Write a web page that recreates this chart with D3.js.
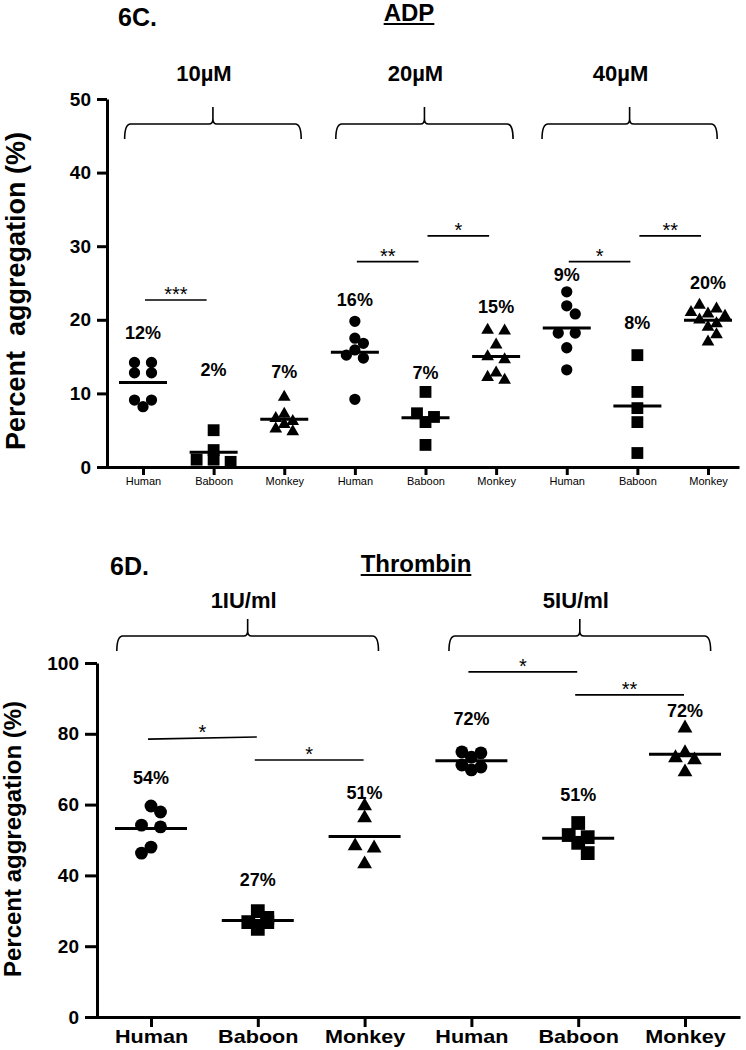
<!DOCTYPE html>
<meta charset="utf-8" />
<head>
  <script src="https://d3js.org/d3.v7.min.js"></script>
  <style>
    body { margin: 0; background: #fff; }
    svg text { font-family: "Liberation Sans", Arial, sans-serif; fill: #000; }
  </style>
</head>
<body>
  <div id="chart"></div>
</body>
<script>
  // ---- data ----
  var species = ["Human", "Baboon", "Monkey"];

  // 6C. ADP
  var adpDoses = ["10µM", "20µM", "40µM"];
  var adpYTicks = [0, 10, 20, 30, 40, 50];
  var adp10Human = [14.2, 14.2, 12.8, 12.8, 9.1, 9.1, 8.2];
  var adp10Baboon = [5.0, 2.3, 1.0, 1.0, 0.7];
  var adp10Monkey = [9.5, 7.2, 6.6, 6.2, 5.8, 5.2, 4.8];
  var adp20Human = [19.8, 17.5, 16.8, 15.9, 15.2, 14.8, 9.2];
  var adp20Baboon = [10.2, 7.3, 6.8, 6.1, 3.0];
  var adp20Monkey = [18.6, 18.5, 16.6, 15.0, 14.6, 12.8, 12.2, 11.8];
  var adp40Human = [23.8, 21.9, 20.8, 18.2, 18.2, 16.2, 13.2];
  var adp40Baboon = [15.2, 10.2, 8.0, 6.1, 1.9];
  var adp40Monkey = [22.0, 21.5, 21.0, 20.8, 20.5, 20.0, 19.5, 19.0, 18.0, 17.0];
  var adpPercent = ["12%", "2%", "7%", "16%", "7%", "15%", "9%", "8%", "20%"];
  var adpPercentAt = [18.2, 13.2, 12.9, 22.7, 12.8, 21.8, 26.1, 19.6, 25.0];
  var adpSigFrom = [0, 3, 4, 6, 7];
  var adpSigTo = [1, 4, 5, 7, 8];
  var adpSigAt = [22.7, 27.9, 31.4, 27.9, 31.4];
  var adpSigStars = ["***", "**", "*", "*", "**"];

  // 6D. Thrombin
  var thrDoses = ["1IU/ml", "5IU/ml"];
  var thrYTicks = [0, 20, 40, 60, 80, 100];
  var thr1Human = [59.6, 57.9, 54.2, 53.7, 48.0, 46.3];
  var thr1Baboon = [29.9, 28.0, 26.8, 26.8, 24.9];
  var thr1Monkey = [59.6, 56.2, 48.3, 47.7, 43.2];
  var thr5Human = [74.9, 74.6, 73.4, 71.2, 70.6, 69.8];
  var thr5Baboon = [54.8, 51.4, 50.8, 49.2, 46.3];
  var thr5Monkey = [81.6, 74.6, 73.2, 72.6, 69.2];
  var thrPercent = ["54%", "27%", "51%", "72%", "51%", "72%"];
  var thrPercentAt = [67.5, 38.7, 63.3, 84.2, 62.7, 86.4];
  var thrSigFrom = [0, 1, 3, 4];
  var thrSigTo = [1, 2, 4, 5];
  var thrSigAt = [78.5, 72.6, 97.5, 91.0];
  var thrSigAtEnd = [79.1, 72.6, 97.5, 91.0];
  var thrSigStars = ["*", "*", "*", "**"];

  var svg = d3.select("#chart").append("svg")
    .attr("width", 746).attr("height", 1050);

  var shapes = [d3.symbolCircle, d3.symbolSquare, d3.symbolTriangle];

  // spread points of one column like a scatter dot plot
  function swarm(vals, y, d, h) {
    var pts = vals.map(function (v) { return { v: v, py: y(v), dx: 0 }; })
      .sort(function (a, b) { return a.py - b.py; });
    var rows = [];
    pts.forEach(function (p) {
      var last = rows[rows.length - 1];
      if (last && p.py - last[0].py <= 4) last.push(p);
      else rows.push([p]);
    });
    var side = 1;
    rows.forEach(function (row, k) {
      var n = row.length;
      row.forEach(function (p, i) { p.dx = (i - (n - 1) / 2) * d; });
      if (n === 1 && k > 0) {
        var prev = rows[k - 1];
        var prevLast = prev[prev.length - 1];
        var hasCenter = prev.some(function (q) { return q.dx === 0; });
        if (row[0].py - prevLast.py < h && hasCenter) {
          row[0].dx = side * d / 2;
          side = -side;
        }
      }
    });
    return pts;
  }

  function brace(g, x0, x1, xc, yTop, drop, rise) {
    var r = 6;
    var p = "M" + x0 + "," + (yTop + drop) +
      " Q" + x0 + "," + yTop + " " + (x0 + r) + "," + yTop +
      " L" + (xc - 4) + "," + yTop +
      " Q" + xc + "," + yTop + " " + xc + "," + (yTop - 5) +
      " L" + xc + "," + (yTop - rise) +
      " M" + xc + "," + (yTop - 5) +
      " Q" + xc + "," + yTop + " " + (xc + 4) + "," + yTop +
      " L" + (x1 - r) + "," + yTop +
      " Q" + x1 + "," + yTop + " " + x1 + "," + (yTop + drop);
    g.append("path").attr("d", p).attr("fill", "none")
      .attr("stroke", "#000").attr("stroke-width", 1.6);
  }

  function drawPanel(o) {
    var g = svg.append("g");
    var x = o.x, y = o.y;

    // y axis
    var ya = g.append("g").attr("transform", "translate(" + o.axisX + ",0)")
      .call(d3.axisLeft(y).tickValues(o.yTicks).tickSize(o.tickLen)
        .tickSizeOuter(0).tickPadding(o.tickPad));
    ya.selectAll("path, line").attr("stroke", "#000").attr("stroke-width", 3);
    ya.selectAll("text").attr("font-size", o.yTickFont).attr("font-weight", "bold")
      .attr("fill", "#0d0d1a");

    // x axis
    var xs = d3.scaleLinear().domain([x.invert(o.axisX - 10), x.invert(o.axisEnd)])
      .range([o.axisX - 10, o.axisEnd]);
    var xa = g.append("g").attr("transform", "translate(0," + y(0) + ")")
      .call(d3.axisBottom(xs).tickValues(d3.range(o.groups.length))
        .tickFormat(function (i) { return species[i % 3]; })
        .tickSize(o.xTickLen).tickSizeOuter(0).tickPadding(o.xTickPad));
    xa.selectAll("path, line").attr("stroke", "#000").attr("stroke-width", 3);
    xa.selectAll("text").attr("font-size", o.xTickFont)
      .attr("font-weight", o.xTickWeight)
      .attr("transform", "scale(" + o.xTickStretch + ",1)");

    // points and mean lines
    o.groups.forEach(function (vals, i) {
      var pts = swarm(vals, y, o.spread, o.symH);
      g.selectAll(null).data(pts).enter().append("path")
        .attr("d", d3.symbol().type(shapes[i % 3]).size(o.symSize[i % 3]))
        .attr("transform", function (p) {
          return "translate(" + (x(i) + p.dx) + "," + p.py + ")";
        })
        .attr("fill", "#000");
      var m = d3.mean(vals);
      g.append("line")
        .attr("x1", x(i) - o.meanHalf).attr("x2", x(i) + o.meanHalf)
        .attr("y1", y(m)).attr("y2", y(m))
        .attr("stroke", "#000").attr("stroke-width", 3);
      g.append("text").attr("x", x(i)).attr("y", y(o.percentAt[i]))
        .attr("dy", "0.35em").attr("text-anchor", "middle")
        .attr("font-size", 18).attr("font-weight", "bold")
        .text(o.percent[i]);
    });

    // significance bars
    o.sigFrom.forEach(function (a, k) {
      var x1 = x(a) + o.sigPad[0], x2 = x(o.sigTo[k]) + o.sigPad[1];
      var y1 = y(o.sigAt[k]), y2 = y(o.sigAtEnd ? o.sigAtEnd[k] : o.sigAt[k]);
      g.append("line").attr("x1", x1).attr("x2", x2).attr("y1", y1).attr("y2", y2)
        .attr("stroke", "#000").attr("stroke-width", 1.6);
      g.append("text").attr("x", (x1 + x2) / 2).attr("y", (y1 + y2) / 2 + 1)
        .attr("text-anchor", "middle").attr("font-size", 20)
        .text(o.sigStars[k]);
    });

    // axis title
    g.append("text")
      .attr("transform", "translate(" + o.yTitleX + "," + o.yTitleY + ") rotate(-90)")
      .attr("text-anchor", "middle").attr("dy", "0.35em")
      .attr("font-size", o.yTitleFont).attr("font-weight", "bold")
      .style("white-space", "pre")
      .text(o.yTitle);

    // dose braces and labels
    o.doses.forEach(function (d, k) {
      var x0 = x(o.braceFrom[k]), x1 = x(o.braceTo[k]);
      var xc = (x0 + x1) / 2;
      brace(g, x0, x1, xc, o.braceY, 15, 17);
      g.append("text").attr("x", xc - o.doseShift).attr("y", o.doseY)
        .attr("text-anchor", "middle").attr("font-size", 22).attr("font-weight", "bold")
        .text(d);
    });

    // panel letter and underlined title
    g.append("text").attr("x", o.letterX).attr("y", o.letterY)
      .attr("font-size", 25).attr("font-weight", "bold").text(o.letter);
    var t = g.append("text").attr("x", o.titleX).attr("y", o.titleY)
      .attr("text-anchor", "middle").attr("font-size", 24).attr("font-weight", "bold")
      .text(o.title);
    var bb = t.node().getBBox();
    g.append("line").attr("x1", bb.x).attr("x2", bb.x + bb.width)
      .attr("y1", o.titleY + 3).attr("y2", o.titleY + 3)
      .attr("stroke", "#000").attr("stroke-width", 2);
  }

  drawPanel({
    x: d3.scaleLinear().domain([0, 8]).range([143, 708]),
    y: d3.scaleLinear().domain([0, 50]).range([467, 99]),
    axisX: 107, axisEnd: 739,
    yTicks: adpYTicks, tickLen: 10, tickPad: 6, yTickFont: 19,
    xTickLen: 8, xTickPad: 2, xTickFont: 11, xTickWeight: "normal", xTickStretch: 1,
    groups: [adp10Human, adp10Baboon, adp10Monkey, adp20Human, adp20Baboon,
      adp20Monkey, adp40Human, adp40Baboon, adp40Monkey],
    spread: 17, symH: 10, symSize: [100, 140, 70], meanHalf: 24,
    percent: adpPercent, percentAt: adpPercentAt,
    sigFrom: adpSigFrom, sigTo: adpSigTo, sigAt: adpSigAt, sigStars: adpSigStars,
    sigPad: [2, -7],
    yTitle: "Percent  aggregation (%)", yTitleX: 16, yTitleY: 291, yTitleFont: 27,
    doses: adpDoses, braceFrom: [-0.26, 2.73, 5.65], braceTo: [2.24, 5.24, 8.13],
    braceY: 124, doseY: 81, doseShift: 9,
    letter: "6C.", letterX: 118, letterY: 26,
    title: "ADP", titleX: 409, titleY: 21
  });

  drawPanel({
    x: d3.scaleLinear().domain([0, 5]).range([151, 685]),
    y: d3.scaleLinear().domain([0, 100]).range([1017, 663]),
    axisX: 97, axisEnd: 740,
    yTicks: thrYTicks, tickLen: 12, tickPad: 6, yTickFont: 19,
    xTickLen: 10, xTickPad: 3, xTickFont: 18, xTickWeight: "bold", xTickStretch: 1.2,
    groups: [thr1Human, thr1Baboon, thr1Monkey, thr5Human, thr5Baboon, thr5Monkey],
    spread: 19, symH: 12, symSize: [130, 190, 95], meanHalf: 36,
    percent: thrPercent, percentAt: thrPercentAt,
    sigFrom: thrSigFrom, sigTo: thrSigTo, sigAt: thrSigAt, sigAtEnd: thrSigAtEnd,
    sigStars: thrSigStars, sigPad: [-3, -1],
    yTitle: "Percent aggregation (%)", yTitleX: 13, yTitleY: 839, yTitleFont: 24,
    doses: thrDoses, braceFrom: [-0.32, 2.79], braceTo: [2.13, 5.24],
    braceY: 636, doseY: 608, doseShift: 4,
    letter: "6D.", letterX: 110, letterY: 575,
    title: "Thrombin", titleX: 416, titleY: 572
  });
</script>
